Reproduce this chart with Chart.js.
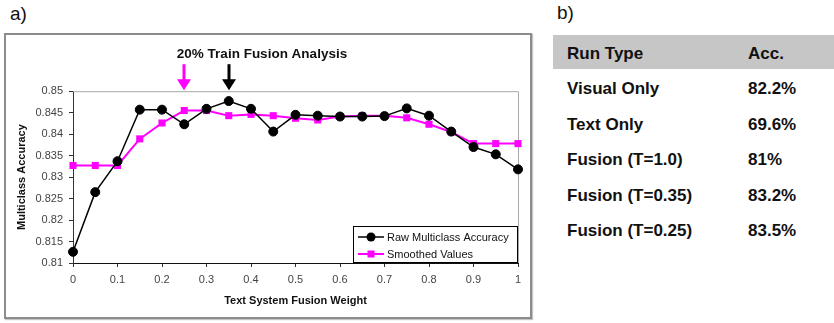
<!DOCTYPE html>
<html>
<head>
<meta charset="utf-8">
<script src="https://cdn.jsdelivr.net/npm/chart.js@4/dist/chart.umd.min.js"></script>
<style>
  body { margin: 0; width: 834px; height: 323px; background: #fff; position: relative; overflow: hidden;
         font-family: "Liberation Sans", Arial, sans-serif; color: #111; }
  #labelA { position: absolute; left: 10px; top: 3px; font-size: 19px; }
  #labelB { position: absolute; left: 557px; top: 2px; font-size: 19px; }
  #frame { position: absolute; left: 4px; top: 33px; width: 524px; height: 282px;
           border: 2px solid #8c8c8c; box-shadow: 1px 1px 1px #c4c4c4; }
  #frame canvas { display: block; }
  #table { position: absolute; left: 553px; top: 35px; width: 281px; }
  .row { position: relative; height: 35.5px; line-height: 35.5px; font-size: 17px; font-weight: bold; }
  .row.head { background: #c6c6c6; height: 34px; line-height: 34px; }
  .row span { position: absolute; top: 2px; }
  .row .c1 { left: 14px; }
  .row .c2 { left: 195px; }
</style>
</head>
<body>
<div id="labelA">a)</div>
<div id="frame"><canvas id="chart" width="524" height="282"></canvas></div>
<div id="labelB">b)</div>
<div id="table"></div>
<script>
// fusion weight on x, accuracy on y
var weights = [0, 0.05, 0.1, 0.15, 0.2, 0.25, 0.3, 0.35, 0.4, 0.45, 0.5,
               0.55, 0.6, 0.65, 0.7, 0.75, 0.8, 0.85, 0.9, 0.95, 1];
var rawAccuracy = [0.8126, 0.8265, 0.8337, 0.8457, 0.8457, 0.8423, 0.8459, 0.8477, 0.8459, 0.8406, 0.8445,
                   0.8443, 0.8441, 0.8441, 0.8442, 0.8460, 0.8443, 0.8406, 0.8370, 0.8353, 0.8318];
var smoothedValues = [0.8327, 0.8327, 0.8327, 0.8389, 0.8426, 0.8455, 0.8455, 0.8443, 0.8446, 0.8443, 0.8437,
                      0.8433, 0.8441, 0.8443, 0.8443, 0.8438, 0.8423, 0.8405, 0.8378, 0.8378, 0.8378];
var seriesLabels = ["Raw Multiclass Accuracy", "Smoothed Values"];

var xTicks = [0, 0.1, 0.2, 0.3, 0.4, 0.5, 0.6, 0.7, 0.8, 0.9, 1];
var yTicks = [0.81, 0.815, 0.82, 0.825, 0.83, 0.835, 0.84, 0.845, 0.85];

// arrows above the plot
var arrowWeights = [0.25, 0.35];
var arrowColors = ["#ff00ff", "#000000"];

// table b)
var runTypes = ["Visual Only", "Text Only", "Fusion (T=1.0)", "Fusion (T=0.35)", "Fusion (T=0.25)"];
var runAcc = ["82.2%", "69.6%", "81%", "83.2%", "83.5%"];

var table = document.getElementById("table");
var html = '<div class="row head"><span class="c1">Run Type</span><span class="c2">Acc.</span></div>';
for (var i = 0; i < runTypes.length; i++) {
  html += '<div class="row"><span class="c1">' + runTypes[i] + '</span><span class="c2">' + runAcc[i] + '</span></div>';
}
table.innerHTML = html;

function toPoints(ys) {
  var pts = [];
  for (var i = 0; i < weights.length; i++) pts.push({ x: weights[i], y: ys[i] });
  return pts;
}

function trimNum(v) {
  return String(parseFloat(v.toFixed(4)));
}

var extras = {
  id: "extras",
  beforeDatasetsDraw: function (chart) {
    var ctx = chart.ctx, a = chart.chartArea;
    ctx.save();
    ctx.strokeStyle = "#a8a8a8";
    ctx.lineWidth = 1;
    ctx.beginPath();
    ctx.moveTo(a.left, a.top + 0.5);
    ctx.lineTo(a.right + 0.5, a.top + 0.5);
    ctx.lineTo(a.right + 0.5, a.bottom);
    ctx.stroke();
    ctx.restore();
  },
  afterDraw: function (chart) {
    var ctx = chart.ctx, a = chart.chartArea;
    ctx.save();
    // arrows
    for (var i = 0; i < arrowWeights.length; i++) {
      var x = Math.round(chart.scales.x.getPixelForValue(arrowWeights[i]));
      var tip = a.top - 1;
      ctx.fillStyle = arrowColors[i];
      ctx.fillRect(x - 1.5, tip - 26, 3, 17);
      ctx.beginPath();
      ctx.moveTo(x - 7, tip - 11);
      ctx.lineTo(x + 7, tip - 11);
      ctx.lineTo(x, tip);
      ctx.closePath();
      ctx.fill();
    }
    // legend box in the lower right corner
    var w = 165, h = 37;
    var lx = a.right - w, ly = a.bottom - h;
    ctx.fillStyle = "#fff";
    ctx.fillRect(lx, ly, w, h);
    ctx.strokeStyle = "#000";
    ctx.lineWidth = 1;
    ctx.strokeRect(lx + 0.5, ly + 0.5, w - 1, h - 1);
    ctx.font = "11px 'Liberation Sans', Arial, sans-serif";
    ctx.textBaseline = "middle";
    chart.data.datasets.forEach(function (ds, k) {
      var cy = ly + 11 + k * 17;
      ctx.strokeStyle = ds.borderColor;
      ctx.lineWidth = ds.borderWidth;
      ctx.beginPath();
      ctx.moveTo(lx + 5, cy);
      ctx.lineTo(lx + 31, cy);
      ctx.stroke();
      ctx.fillStyle = ds.pointBackgroundColor;
      if (ds.pointStyle === "rect") {
        ctx.fillRect(lx + 18 - 3.5, cy - 3.5, 7, 7);
      } else {
        ctx.beginPath();
        ctx.arc(lx + 18, cy, 4.5, 0, Math.PI * 2);
        ctx.fill();
      }
      ctx.fillStyle = "#111";
      ctx.fillText(ds.label, lx + 34, cy + 0.5);
    });
    ctx.restore();
  }
};

new Chart(document.getElementById("chart").getContext("2d"), {
  type: "line",
  data: {
    datasets: [
      {
        label: seriesLabels[0],
        data: toPoints(rawAccuracy),
        borderColor: "#000000",
        backgroundColor: "#000000",
        pointBackgroundColor: "#000000",
        pointBorderColor: "#000000",
        borderWidth: 1.5,
        pointStyle: "circle",
        pointRadius: 4.5,
        pointBorderWidth: 1,
        tension: 0,
        clip: false
      },
      {
        label: seriesLabels[1],
        data: toPoints(smoothedValues),
        borderColor: "#ff00ff",
        backgroundColor: "#ff00ff",
        pointBackgroundColor: "#ff00ff",
        pointBorderColor: "#ff00ff",
        borderWidth: 2,
        pointStyle: "rect",
        pointRadius: 5,
        pointBorderWidth: 0,
        tension: 0,
        clip: false
      }
    ]
  },
  options: {
    responsive: false,
    animation: false,
    devicePixelRatio: 1,
    layout: { padding: { top: 3, right: 12, bottom: 0, left: 0 } },
    plugins: {
      legend: { display: false },
      tooltip: { enabled: false },
      title: {
        display: true,
        text: "20% Train Fusion Analysis",
        color: "#111",
        font: { family: "'Liberation Sans', Arial, sans-serif", size: 13.5, weight: "bold" },
        padding: { top: 8, bottom: 29 }
      }
    },
    scales: {
      x: {
        type: "linear",
        min: 0,
        max: 1,
        afterBuildTicks: function (scale) {
          scale.ticks = xTicks.map(function (v) { return { value: v }; });
        },
        afterFit: function (scale) { scale.height = 54; },
        grid: { drawOnChartArea: false, tickLength: 4, color: "#333" },
        border: { color: "#111", width: 1 },
        ticks: {
          padding: 6,
          color: "#444",
          font: { family: "'Liberation Sans', Arial, sans-serif", size: 11 },
          maxRotation: 0,
          callback: function (v) { return trimNum(v); }
        },
        title: {
          display: true,
          text: "Text System Fusion Weight",
          color: "#111",
          font: { family: "'Liberation Sans', Arial, sans-serif", size: 11, weight: "bold" },
          padding: { top: 0, bottom: 9 }
        }
      },
      y: {
        min: 0.81,
        max: 0.85,
        afterBuildTicks: function (scale) {
          scale.ticks = yTicks.map(function (v) { return { value: v }; });
        },
        afterFit: function (scale) { scale.width = 67; },
        grid: { drawOnChartArea: false, tickLength: 4, color: "#333" },
        border: { color: "#333", width: 1 },
        ticks: {
          padding: 6,
          color: "#444",
          font: { family: "'Liberation Sans', Arial, sans-serif", size: 11 },
          callback: function (v) { return trimNum(v); }
        },
        title: {
          display: true,
          text: "Multiclass Accuracy",
          color: "#111",
          font: { family: "'Liberation Sans', Arial, sans-serif", size: 11, weight: "bold" },
          padding: { top: 9, bottom: 0 }
        }
      }
    }
  },
  plugins: [extras]
});
</script>
</body>
</html>
